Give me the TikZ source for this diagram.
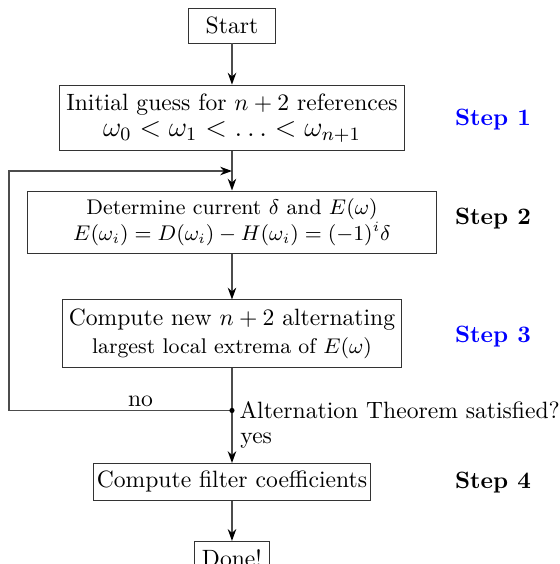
\documentclass[tikz,border=0pt]{standalone}
\usepackage{amsmath,amssymb}
\usetikzlibrary{arrows.meta, positioning, calc}
\definecolor{StepBlue}{HTML}{0000FF}
\tikzset{
  termbox/.style={rectangle, draw=black!80, minimum width=1.31cm, minimum height=0.52cm, align=center},
  processbox/.style={rectangle, draw=black!80, inner xsep=2pt, align=center},
  steplabel/.style={font=\bfseries},
  arrow/.style={-{Stealth[length=5pt, width=3.6pt, inset=1.6pt, color=black]}, semithick, black!70},
  flowline/.style={semithick, black!70}
}
\begin{document}
\begin{tikzpicture}
  \useasboundingbox (0,0) rectangle (8.34,-8.40);
  \node[termbox] (start) at (3.455,-0.38) {Start};
  \node[processbox, minimum width=5.15cm, minimum height=0.98cm] (guess) at (3.455,-1.757) {Initial guess for $n+2$ references\\[-1pt] \large $\omega_0<\omega_1<\ldots<\omega_{n+1}$};
  \node[processbox, font=\small, minimum width=6.09cm, minimum height=0.91cm] (delta) at (3.455,-3.313) {Determine current $\delta$ and $E(\omega)$\\ $E(\omega_i)=D(\omega_i)-H(\omega_i)=(-1)^i\delta$};
  \node[processbox, minimum width=5.06cm, minimum height=1.0cm] (extrema) at (3.455,-4.967) {Compute new $n+2$ alternating\\ \small largest local extrema of $E(\omega)$};
  \node[processbox, inner xsep=0.5pt, minimum width=4.12cm, minimum height=0.54cm] (coeffs) at (3.455,-7.178) {Compute filter coefficients};
  \node[processbox, inner xsep=3.3pt, anchor=north] (done) at (3.455,-8.056) {Done!};

  \node[steplabel, text=StepBlue] (step1) at (7.342,-1.78) {Step 1};
  \node[steplabel] (step2) at (7.342,-3.25) {Step 2};
  \node[steplabel, text=StepBlue] (step3) at (7.342,-5.02) {Step 3};
  \node[steplabel] (step4) at (7.342,-7.18) {Step 4};

  \coordinate (merge) at (3.455,-2.547);
  \coordinate (junction) at (3.455,-6.113);
  \coordinate (back) at (0.134,-6.113);

  \draw[arrow] (start) -- (guess);
  \draw[flowline] (guess) -- (merge);
  \draw[arrow] (merge) -- (delta);
  \draw[arrow] (delta) -- (extrema);
  \draw[flowline] (extrema) -- (junction);
  \draw[arrow] (junction) -- (coeffs);
  \draw[arrow] (coeffs) -- (done);
  \draw[arrow] (junction) -- node[above, pos=0.41, inner sep=1.2pt, text=black] (no) {no} (back) |- (merge);
  \fill[black] (junction) circle (1.1pt);
  \node[right=3pt of junction, inner sep=0pt] (question) {Alternation Theorem satisfied?};
  \node[anchor=west, inner sep=0pt] (yes) at (3.574,-6.56) {yes};
\end{tikzpicture}
\end{document}
